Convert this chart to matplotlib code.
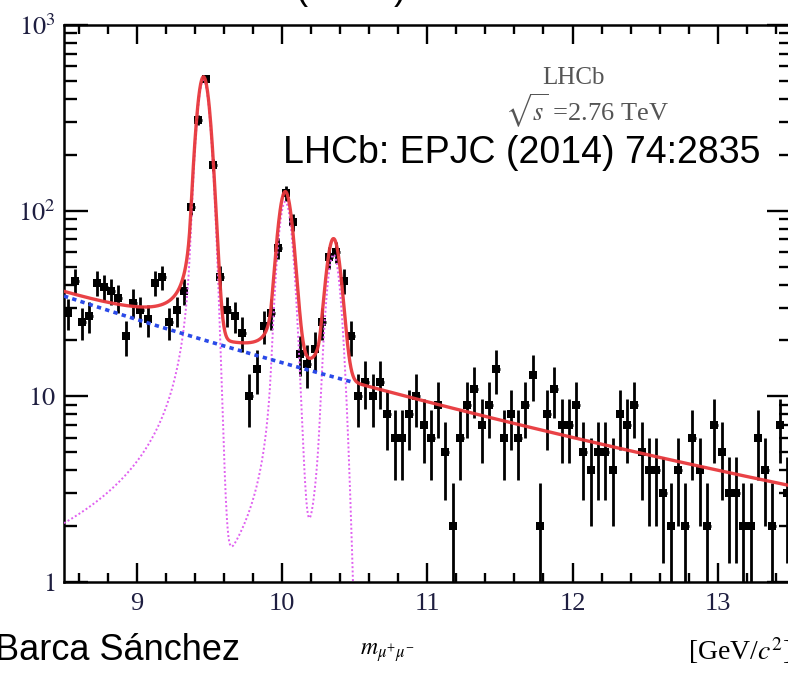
import numpy as np
import matplotlib.pyplot as plt
from matplotlib.ticker import MultipleLocator, LogLocator, NullFormatter

plt.rcParams['font.family'] = ['Liberation Serif', 'DejaVu Serif']
plt.rcParams['mathtext.fontset'] = 'stix'

# --- dimuon mass spectrum, 50 MeV bins from 8.5 to 13.5 GeV ---
bin_lo = 8.5
bin_width = 0.05
counts = [
    28, 42, 25, 27, 41, 39, 37, 34, 21, 32,
    29, 26, 41, 44, 25, 29, 37, 105, 308, 509,
    176, 44, 29, 27, 22, 10, 14, 24, 28, 63,
    124, 87, 17, 15, 18, 25, 56, 60, 42, 21,
    10, 12, 10, 12, 8, 6, 6, 8, 10, 7,
    6, 9, 5, 2, 6, 9, 11, 7, 9, 14,
    6, 8, 6, 9, 13, 2, 8, 11, 7, 7,
    9, 5, 4, 5, 5, 4, 8, 7, 9, 5,
    4, 4, 3, 2, 4, 2, 6, 4, 2, 7,
    5, 3, 3, 2, 2, 6, 4, 2, 7, 3,
]

# fit model: three Upsilon states (Crystal Ball) on a falling background
peak_mass = [9.46, 10.023, 10.355]
peak_sigma = [0.045, 0.048, 0.047]
peak_height = [505, 111, 58]
cb_alpha = 2.0
cb_n = 1.0
bkg_mass = [8.5, 13.5]
bkg_level = [34.7, 3.3]

y_ticks = [1, 10, 100, 1000]
y_ticklabels = ['$1$', '$10$', '$10^{2}$', '$10^{3}$']
x_ticks = [9, 10, 11, 12, 13]


def crystal_ball(m, mean, sigma, alpha, n):
    t = (m - mean) / sigma
    out = np.exp(-0.5 * t ** 2)
    a = (n / alpha) ** n * np.exp(-0.5 * alpha ** 2)
    b = n / alpha - alpha
    tail = t < -alpha
    out[tail] = a / (b - t[tail]) ** n
    return out


def background(m):
    k = np.log(bkg_level[0] / bkg_level[1]) / np.log(bkg_mass[1] / bkg_mass[0])
    return bkg_level[0] * (m / bkg_mass[0]) ** (-k)


def signal(m):
    s = np.zeros_like(m)
    for mu, sg, h in zip(peak_mass, peak_sigma, peak_height):
        s += h * crystal_ball(m, mu, sg, cb_alpha, cb_n)
    return s


counts = np.array(counts, dtype=float)
centers = bin_lo + bin_width * (np.arange(len(counts)) + 0.5)

fig = plt.figure(figsize=(7.88, 6.73), dpi=100)
ax = fig.add_axes([0.0812, 0.1352, 0.922, 0.8277])

ax.errorbar(centers, counts, yerr=np.sqrt(counts), xerr=bin_width / 2,
            fmt='s', color='black', ms=6, mew=0, elinewidth=2.0,
            capsize=3.2, capthick=2.0, zorder=2)

m_all = np.linspace(8.5, 13.5, 1500)
m_sig = np.linspace(8.5, 10.5, 800)
ax.plot(m_sig, signal(m_sig), color='#e060f0', lw=1.4, ls=(0, (1, 1.2)), zorder=3)
ax.plot(m_sig, background(m_sig), color='#2a4ae8', lw=2.6, ls=(0, (1.2, 1.2)), zorder=3)
ax.plot(m_all, background(m_all) + signal(m_all), color='#e8383c', lw=2.4,
        alpha=0.95, zorder=4)

ax.set_yscale('log')
ax.set_xlim(8.5, 13.5)
ax.set_ylim(1, 1000)

ax.set_xticks(x_ticks)
ax.xaxis.set_minor_locator(MultipleLocator(0.2))
ax.set_yticks(y_ticks)
ax.set_yticklabels(y_ticklabels)
ax.yaxis.set_minor_locator(LogLocator(base=10, subs=np.arange(2, 10)))
ax.yaxis.set_minor_formatter(NullFormatter())

ax.tick_params(which='both', direction='in', top=True, right=True,
               width=1.7, colors='black', labelcolor='#1e1e40', labelsize=19)
ax.tick_params(axis='x', which='major', length=14, pad=8)
ax.tick_params(axis='x', which='minor', length=6.5)
ax.tick_params(axis='y', which='major', length=17, pad=6)
ax.tick_params(axis='y', which='minor', length=9)
for sp in ax.spines.values():
    sp.set_linewidth(1.8)

fig.text(573 / 788, 1 - 78 / 673, 'LHCb', ha='center', va='center',
         fontsize=18, color='#555555')
fig.text(587 / 788, 1 - 111 / 673, r'$\sqrt{s}$ =2.76 TeV', ha='center',
         va='center', fontsize=19, color='#555555')
fig.text(283 / 788, 1 - 153 / 673, 'LHCb: EPJC (2014) 74:2835',
         ha='left', va='center', fontsize=27, family='Liberation Sans')

fig.text(387 / 788, 1 - 653 / 673, r'$m_{\mu^{+}\mu^{-}}$', ha='center',
         va='center', fontsize=17)
fig.text(688 / 788, 1 - 651 / 673, r'[GeV/$c^{2}$]', ha='left',
         va='center', fontsize=20)

fig.text(-5 / 788, 1 - 650 / 673, 'Barca Sánchez', ha='left', va='center',
         fontsize=26, family='Liberation Sans')
fig.text(296 / 788, 1 + 1 / 673, '(', ha='left', va='baseline',
         fontsize=26, family='Liberation Sans')
fig.text(394 / 788, 1 + 1 / 673, ')', ha='left', va='baseline',
         fontsize=26, family='Liberation Sans')

fig.savefig('out.png', dpi=100)
